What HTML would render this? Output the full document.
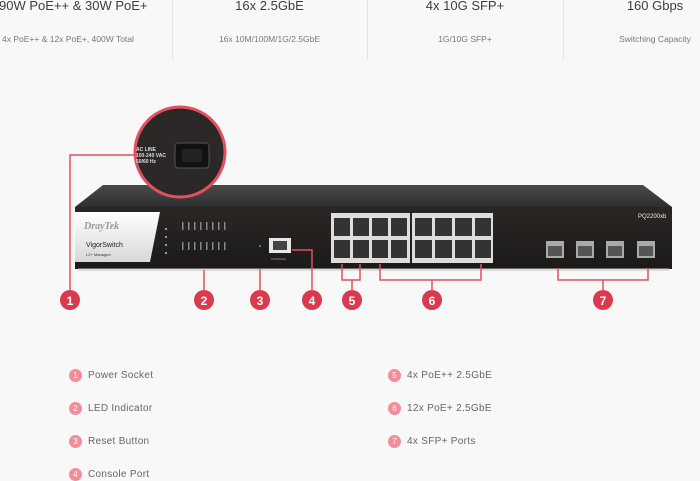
<!DOCTYPE html>
<html><head><meta charset="utf-8"><style>
body{margin:0;width:700px;height:481px;background:#f8f8f8;font-family:"Liberation Sans","DejaVu Sans",sans-serif;overflow:hidden;position:relative}
.h{position:absolute;top:-2px;font-size:13px;color:#3d3d3d;text-align:center;white-space:nowrap}
.s{position:absolute;top:34px;font-size:8.5px;color:#777;text-align:center;white-space:nowrap}
.d{position:absolute;top:0;width:1px;height:60px;background:#e4e4e4}
.lc{position:absolute;width:13px;height:13px;border-radius:50%;background:#f38d99;color:#fff;font-size:8px;text-align:center;line-height:13px}
.lt{position:absolute;font-size:10px;color:#666;letter-spacing:.3px}
</style></head><body>
<div class="h" style="left:-1px;text-align:left">90W PoE++ &amp; 30W PoE+</div>
<div class="s" style="left:2px;text-align:left">4x PoE++ &amp; 12x PoE+, 400W Total</div>
<div class="d" style="left:172px"></div>
<div class="h" style="left:172px;width:195px">16x 2.5GbE</div>
<div class="s" style="left:172px;width:195px">16x 10M/100M/1G/2.5GbE</div>
<div class="d" style="left:367px"></div>
<div class="h" style="left:367px;width:196px">4x 10G SFP+</div>
<div class="s" style="left:367px;width:196px">1G/10G SFP+</div>
<div class="d" style="left:563px"></div>
<div class="h" style="left:590px;width:130px">160 Gbps</div>
<div class="s" style="left:590px;width:130px">Switching Capacity</div>

<svg width="700" height="481" style="position:absolute;left:0;top:0">
<defs>
<linearGradient id="tf" x1="0" y1="0" x2="0" y2="1"><stop offset="0" stop-color="#4a4a4a"/><stop offset="1" stop-color="#2e2e2e"/></linearGradient>
<linearGradient id="ff" x1="0" y1="0" x2="0" y2="1"><stop offset="0" stop-color="#2a2624"/><stop offset="1" stop-color="#1c1a19"/></linearGradient>
<linearGradient id="wp" x1="0" y1="0" x2="0" y2="1"><stop offset="0" stop-color="#fff"/><stop offset="1" stop-color="#d8d8d8"/></linearGradient>
</defs>
<polygon points="103,185 643,185 672,207 75,207" fill="url(#tf)"/>
<rect x="75" y="207" width="597" height="62" fill="url(#ff)"/>
<rect x="78" y="268" width="591" height="3" fill="#bbb" opacity=".5"/>
<polygon points="75,212 160,212 150,262 75,262" fill="url(#wp)"/>
<text x="84" y="229" font-size="10" font-style="italic" font-weight="bold" fill="#999" font-family="Liberation Serif">DrayTek</text>
<text x="86" y="247" font-size="7" fill="#222">VigorSwitch</text>
<text x="86" y="256" font-size="4" fill="#333">L2+ Managed</text>
<g fill="#999">
<rect x="165" y="228" width="2" height="2"/><rect x="165" y="236" width="2" height="2"/><rect x="165" y="244" width="2" height="2"/><rect x="165" y="252" width="2" height="2"/>
</g>
<g fill="#888">
<rect x="182" y="222" width="1.5" height="8"/><rect x="188" y="222" width="1.5" height="8"/><rect x="194" y="222" width="1.5" height="8"/><rect x="200" y="222" width="1.5" height="8"/><rect x="206" y="222" width="1.5" height="8"/><rect x="212" y="222" width="1.5" height="8"/><rect x="218" y="222" width="1.5" height="8"/><rect x="224" y="222" width="1.5" height="8"/>
<rect x="182" y="242" width="1.5" height="8"/><rect x="188" y="242" width="1.5" height="8"/><rect x="194" y="242" width="1.5" height="8"/><rect x="200" y="242" width="1.5" height="8"/><rect x="206" y="242" width="1.5" height="8"/><rect x="212" y="242" width="1.5" height="8"/><rect x="218" y="242" width="1.5" height="8"/><rect x="224" y="242" width="1.5" height="8"/>
</g>
<circle cx="260" cy="246" r="1" fill="#888"/>
<rect x="269" y="238" width="22" height="15" fill="#e8e8e8"/>
<rect x="273" y="241" width="14" height="9" fill="#444"/>
<text x="271" y="260" font-size="3" fill="#aaa">CONSOLE</text>
<rect x="331" y="213" width="79" height="50" fill="#ddd"/>
<rect x="412" y="213" width="81" height="50" fill="#ddd"/>
<g fill="#333">
<rect x="334" y="218" width="16" height="18"/><rect x="353" y="218" width="16" height="18"/><rect x="372" y="218" width="16" height="18"/><rect x="391" y="218" width="16" height="18"/>
<rect x="334" y="240" width="16" height="18"/><rect x="353" y="240" width="16" height="18"/><rect x="372" y="240" width="16" height="18"/><rect x="391" y="240" width="16" height="18"/>
<rect x="415" y="218" width="17" height="18"/><rect x="435" y="218" width="17" height="18"/><rect x="455" y="218" width="17" height="18"/><rect x="475" y="218" width="16" height="18"/>
<rect x="415" y="240" width="17" height="18"/><rect x="435" y="240" width="17" height="18"/><rect x="455" y="240" width="17" height="18"/><rect x="475" y="240" width="16" height="18"/>
</g>
<g fill="#aaa"><rect x="546" y="241" width="18" height="17"/><rect x="576" y="241" width="18" height="17"/><rect x="606" y="241" width="18" height="17"/><rect x="637" y="241" width="18" height="17"/></g>
<g fill="#555"><rect x="548" y="246" width="14" height="10"/><rect x="578" y="246" width="14" height="10"/><rect x="608" y="246" width="14" height="10"/><rect x="639" y="246" width="14" height="10"/></g>
<text x="638" y="218" font-size="6" fill="#eee">PQ2200xb</text>
<circle cx="180" cy="152" r="45" fill="#2b2827" stroke="#e3505f" stroke-width="3"/>
<text x="136" y="151" font-size="5" font-weight="bold" fill="#ddd">AC LINE</text>
<text x="136" y="157" font-size="5" font-weight="bold" fill="#ddd">100-240 VAC</text>
<text x="136" y="163" font-size="5" font-weight="bold" fill="#ddd">50/60 Hz</text>
<rect x="175" y="143" width="34" height="25" rx="3" fill="#111" stroke="#555"/>
<rect x="182" y="149" width="20" height="13" fill="#222"/>
<g stroke="#e3505f" stroke-width="1.5" fill="none">
<polyline points="137,155 70,155 70,290"/>
<line x1="204" y1="270" x2="204" y2="290"/>
<line x1="260" y1="269" x2="260" y2="290"/>
<polyline points="292,250 312,250 312,290"/>
<polyline points="342,264 342,280 360,280 360,264"/><line x1="352" y1="280" x2="352" y2="290"/>
<polyline points="380,264 380,280 481,280 481,264"/><line x1="432" y1="280" x2="432" y2="290"/>
<polyline points="558,268 558,280 648,280 648,268"/><line x1="603" y1="280" x2="603" y2="290"/>
</g>
<g fill="#d93a4d">
<circle cx="70" cy="300" r="10"/><circle cx="204" cy="300" r="10"/><circle cx="260" cy="300" r="10"/><circle cx="312" cy="300" r="10"/><circle cx="352" cy="300" r="10"/><circle cx="432" cy="300" r="10"/><circle cx="603" cy="300" r="10"/>
</g>
<g fill="#fff" font-size="12" font-weight="bold" text-anchor="middle">
<text x="70" y="305">1</text><text x="204" y="305">2</text><text x="260" y="305">3</text><text x="312" y="305">4</text><text x="352" y="305">5</text><text x="432" y="305">6</text><text x="603" y="305">7</text>
</g>
</svg>
<div class="lc" style="left:69px;top:369px">1</div><div class="lt" style="left:88px;top:370px">Power Socket</div>
<div class="lc" style="left:69px;top:402px">2</div><div class="lt" style="left:88px;top:403px">LED Indicator</div>
<div class="lc" style="left:69px;top:435px">3</div><div class="lt" style="left:88px;top:436px">Reset Button</div>
<div class="lc" style="left:69px;top:468px">4</div><div class="lt" style="left:88px;top:469px">Console Port</div>
<div class="lc" style="left:388px;top:369px">5</div><div class="lt" style="left:407px;top:370px">4x PoE++ 2.5GbE</div>
<div class="lc" style="left:388px;top:402px">6</div><div class="lt" style="left:407px;top:403px">12x PoE+ 2.5GbE</div>
<div class="lc" style="left:388px;top:435px">7</div><div class="lt" style="left:407px;top:436px">4x SFP+ Ports</div>
</body></html>
